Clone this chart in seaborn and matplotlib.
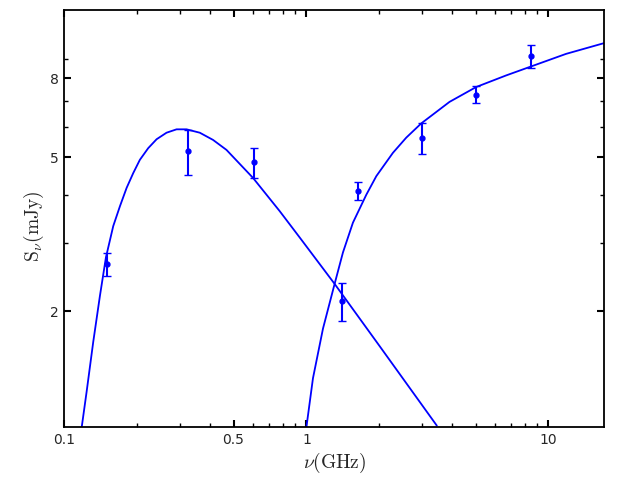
import numpy as np
import pandas as pd
import matplotlib
matplotlib.use("Agg")
import matplotlib.pyplot as plt
from matplotlib.ticker import FixedLocator, FixedFormatter, NullFormatter, LogLocator
import seaborn as sns

# measured flux densities
freq = [0.15, 0.325, 0.61, 1.4, 1.64, 3.0, 5.0, 8.45]
flux = [2.65, 5.20, 4.85, 2.12, 4.09, 5.61, 7.27, 9.13]
flux_err = [0.18, 0.69, 0.43, 0.24, 0.22, 0.51, 0.36, 0.62]

# low-frequency component
low_nu = [0.118, 0.1237, 0.1317, 0.1404, 0.1486, 0.1593, 0.1698, 0.1809, 0.1927,
          0.2052, 0.2221, 0.2406, 0.2644, 0.2909, 0.3199, 0.3628, 0.4117, 0.4677,
          0.602, 0.776, 0.9385, 1.308, 2.006, 3.457]
low_S = [1.0, 1.238, 1.664, 2.193, 2.754, 3.319, 3.737, 4.167, 4.553,
         4.926, 5.28, 5.569, 5.79, 5.908, 5.908, 5.79, 5.546, 5.226,
         4.422, 3.627, 3.10, 2.351, 1.623, 1.01]

# high-frequency component
high_nu = [1.0, 1.0647, 1.171, 1.308, 1.416, 1.557, 1.768, 1.945, 2.277, 2.585,
           2.981, 3.548, 3.901, 5.027, 6.685, 8.476, 11.82, 16.9]
high_S = [1.0, 1.340, 1.801, 2.351, 2.836, 3.387, 4.0, 4.47, 5.135, 5.622,
          6.12, 6.65, 6.958, 7.603, 8.147, 8.595, 9.264, 9.87]

xticks = [0.1, 0.5, 1, 10]
xticklabels = ["0.1", "0.5", "1", "10"]
yticks = [2, 5, 8]
yticklabels = ["2", "5", "8"]
yminor = [3, 4, 6, 7, 9]

sns.set_style("ticks")
plt.rcParams["mathtext.fontset"] = "cm"
plt.rcParams["font.family"] = ["DejaVu Sans"]

low_df = pd.DataFrame({"nu": low_nu, "S": low_S})
high_df = pd.DataFrame({"nu": high_nu, "S": high_S})

fig = plt.figure(figsize=(6.41, 4.78), dpi=100)
ax = fig.add_axes([0.1003, 0.1061, 0.8424, 0.872])

sns.lineplot(data=low_df, x="nu", y="S", ax=ax, color="blue", lw=1.3,
             estimator=None, sort=False)
sns.lineplot(data=high_df, x="nu", y="S", ax=ax, color="blue", lw=1.3,
             estimator=None, sort=False)
ax.errorbar(freq, flux, yerr=flux_err, fmt="o", color="blue", ms=3.5,
            elinewidth=1.5, capsize=2.7, capthick=1)

ax.set_xscale("log")
ax.set_yscale("log")
ax.set_xlim(0.1, 17)
ax.set_ylim(1, 12)

ax.xaxis.set_major_locator(FixedLocator(xticks))
ax.xaxis.set_major_formatter(FixedFormatter(xticklabels))
ax.xaxis.set_minor_locator(LogLocator(base=10, subs=np.arange(2, 10)))
ax.xaxis.set_minor_formatter(NullFormatter())
ax.yaxis.set_major_locator(FixedLocator(yticks))
ax.yaxis.set_major_formatter(FixedFormatter(yticklabels))
ax.yaxis.set_minor_locator(FixedLocator(yminor))
ax.yaxis.set_minor_formatter(NullFormatter())

ax.tick_params(which="both", direction="in", top=True, right=True,
               labelsize=10, pad=4, color="black")
ax.tick_params(which="major", length=4.8, width=1.5)
ax.tick_params(which="minor", length=2.9, width=1.0)
for sp in ax.spines.values():
    sp.set_linewidth(1.3)
    sp.set_color("black")

ax.set_xlabel(r"$\nu(\rm GHz)$", fontsize=14, labelpad=3)
ax.set_ylabel(r"$\rm S_{\nu}(mJy)$", fontsize=14)
ax.yaxis.set_label_coords(-0.034, 0.483)

fig.savefig("out.png", dpi=100)
plt.close(fig)
